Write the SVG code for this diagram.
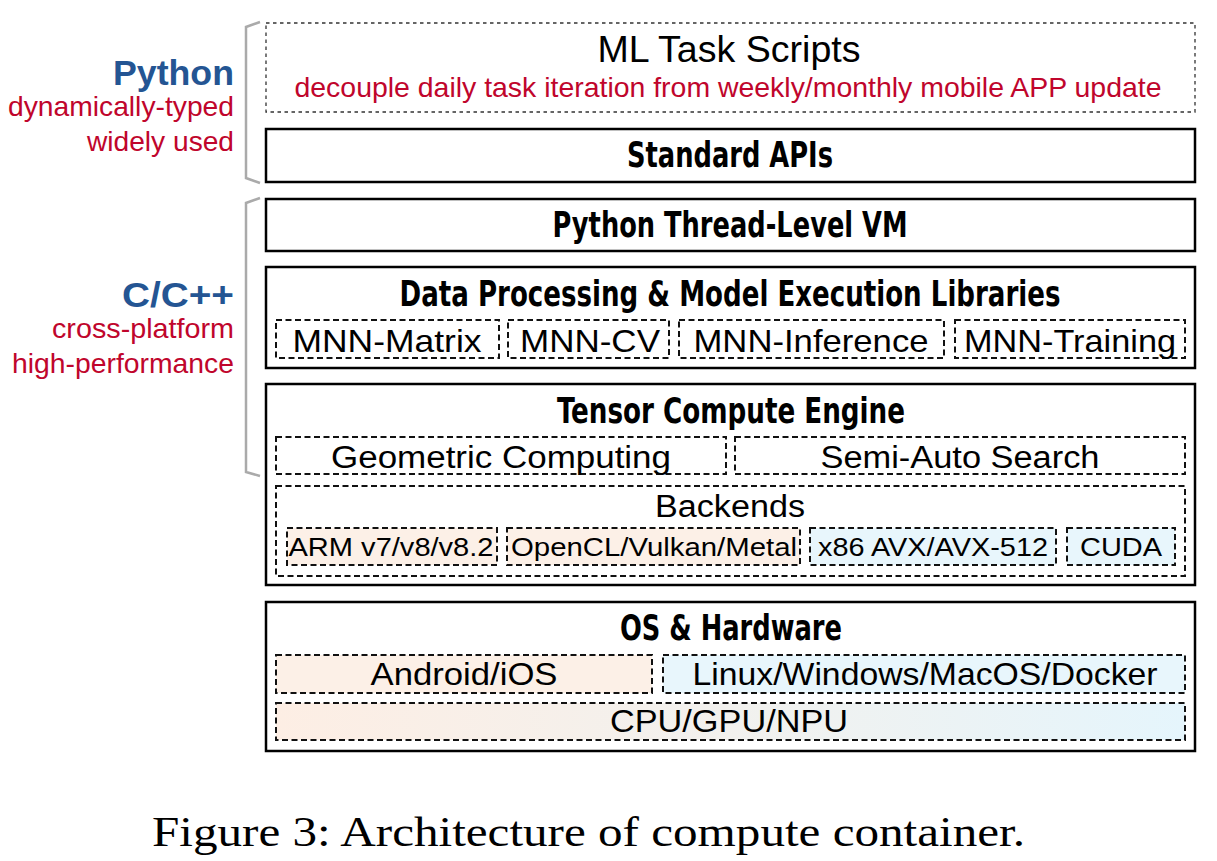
<svg xmlns="http://www.w3.org/2000/svg" width="1217" height="861" viewBox="0 0 1217 861">
<style>
.box{fill:#fff;stroke:#000;stroke-width:2.5}
.dash{fill:#fff;stroke:#111;stroke-width:2;stroke-dasharray:6 3.5}
.dot{fill:#fff;stroke:#333;stroke-width:1.3;stroke-dasharray:3.5 3.5}
.bracket{fill:none;stroke:#aaa;stroke-width:2.5}
.t{font-family:'Liberation Sans', Arimo, Arial, sans-serif;fill:#000;text-anchor:middle}
.b{font-family:'DejaVu Sans Condensed', 'DejaVu Sans', sans-serif;font-stretch:condensed;font-weight:bold;fill:#000;text-anchor:middle}
.red{font-family:'Liberation Sans', Arimo, Arial, sans-serif;fill:#c0052c}
.blue{font-family:'Liberation Sans', Arimo, Arial, sans-serif;font-weight:bold;fill:#245593}
.cap{font-family:'Liberation Serif', Tinos, 'Times New Roman', serif;fill:#000}
.or{fill:#fcf0e7}
.bl{fill:#e8f6fc}
</style>
<defs>
<linearGradient id="g" x1="0" y1="0" x2="1" y2="0">
<stop offset="0" stop-color="#fdeee4"/>
<stop offset="0.5" stop-color="#f2f1ee"/>
<stop offset="1" stop-color="#e5f5fc"/>
</linearGradient>
</defs>

<g id="left-labels">
<polyline class="bracket" points="260,22 246,27 246,178 260,183"/>
<polyline class="bracket" points="260,198 246,203 246,472 260,476"/>
<text class="blue" x="234" y="85" font-size="35" text-anchor="end" textLength="121" lengthAdjust="spacingAndGlyphs">Python</text>
<text class="red" x="234" y="116" font-size="28" text-anchor="end" textLength="226" lengthAdjust="spacingAndGlyphs">dynamically-typed</text>
<text class="red" x="234" y="151" font-size="28" text-anchor="end" textLength="147" lengthAdjust="spacingAndGlyphs">widely used</text>
<text class="blue" x="234" y="307" font-size="35" text-anchor="end" textLength="112" lengthAdjust="spacingAndGlyphs">C/C++</text>
<text class="red" x="234" y="338" font-size="28" text-anchor="end" textLength="182" lengthAdjust="spacingAndGlyphs">cross-platform</text>
<text class="red" x="234" y="373" font-size="28" text-anchor="end" textLength="222" lengthAdjust="spacingAndGlyphs">high-performance</text>
</g>

<g id="ml-task-scripts">
<rect class="dot" x="266" y="23" width="929" height="89"/>
<text class="t" x="729" y="62" font-size="36" textLength="263" lengthAdjust="spacingAndGlyphs">ML Task Scripts</text>
<text class="red" x="728" y="97" font-size="28" text-anchor="middle" textLength="867" lengthAdjust="spacingAndGlyphs">decouple daily task iteration from weekly/monthly mobile APP update</text>
</g>

<g id="standard-apis">
<rect class="box" x="266" y="129" width="929" height="53"/>
<text class="b" x="730" y="167" font-size="35" textLength="206" lengthAdjust="spacingAndGlyphs">Standard APIs</text>
</g>

<g id="python-vm">
<rect class="box" x="266" y="199" width="929" height="52"/>
<text class="b" x="730" y="237" font-size="35" textLength="355" lengthAdjust="spacingAndGlyphs">Python Thread-Level VM</text>
</g>

<g id="libraries">
<rect class="box" x="266" y="267" width="929" height="101"/>
<text class="b" x="730" y="306" font-size="35" textLength="661" lengthAdjust="spacingAndGlyphs">Data Processing &amp; Model Execution Libraries</text>
<rect class="dash" x="276" y="320" width="223" height="38"/>
<text class="t" x="387" y="352" font-size="32" textLength="189" lengthAdjust="spacingAndGlyphs">MNN-Matrix</text>
<rect class="dash" x="508" y="320" width="161" height="38"/>
<text class="t" x="590" y="352" font-size="32" textLength="140" lengthAdjust="spacingAndGlyphs">MNN-CV</text>
<rect class="dash" x="679" y="320" width="265" height="38"/>
<text class="t" x="811" y="352" font-size="32" textLength="235" lengthAdjust="spacingAndGlyphs">MNN-Inference</text>
<rect class="dash" x="955" y="320" width="230" height="38"/>
<text class="t" x="1070" y="352" font-size="32" textLength="212" lengthAdjust="spacingAndGlyphs">MNN-Training</text>
</g>

<g id="tensor-engine">
<rect class="box" x="266" y="384" width="929" height="201"/>
<text class="b" x="731" y="423" font-size="35" textLength="348" lengthAdjust="spacingAndGlyphs">Tensor Compute Engine</text>
<rect class="dash" x="276" y="437" width="450" height="37"/>
<text class="t" x="501" y="468" font-size="31" textLength="340" lengthAdjust="spacingAndGlyphs">Geometric Computing</text>
<rect class="dash" x="735" y="437" width="450" height="37"/>
<text class="t" x="960" y="468" font-size="31" textLength="279" lengthAdjust="spacingAndGlyphs">Semi-Auto Search</text>
<rect class="dash" x="276" y="486" width="909" height="90"/>
<text class="t" x="730" y="517" font-size="31" textLength="150" lengthAdjust="spacingAndGlyphs">Backends</text>
<rect class="dash or" x="287" y="528" width="210" height="37"/>
<text class="t" x="391" y="556" font-size="26" textLength="205" lengthAdjust="spacingAndGlyphs">ARM v7/v8/v8.2</text>
<rect class="dash or" x="507" y="528" width="293" height="37"/>
<text class="t" x="654" y="556" font-size="26" textLength="286" lengthAdjust="spacingAndGlyphs">OpenCL/Vulkan/Metal</text>
<rect class="dash bl" x="810" y="528" width="246" height="37"/>
<text class="t" x="933" y="556" font-size="26" textLength="230" lengthAdjust="spacingAndGlyphs">x86 AVX/AVX-512</text>
<rect class="dash bl" x="1067" y="528" width="108" height="37"/>
<text class="t" x="1121" y="556" font-size="26" textLength="82" lengthAdjust="spacingAndGlyphs">CUDA</text>
</g>

<g id="os-hardware">
<rect class="box" x="266" y="602" width="929" height="149"/>
<text class="b" x="731" y="640" font-size="35" textLength="222" lengthAdjust="spacingAndGlyphs">OS &amp; Hardware</text>
<rect class="dash or" x="276" y="655" width="376" height="38"/>
<text class="t" x="464" y="685" font-size="32" textLength="187" lengthAdjust="spacingAndGlyphs">Android/iOS</text>
<rect class="dash bl" x="663" y="655" width="522" height="38"/>
<text class="t" x="925" y="685" font-size="32" textLength="465" lengthAdjust="spacingAndGlyphs">Linux/Windows/MacOS/Docker</text>
<rect class="dash" x="276" y="703" width="909" height="37" style="fill:url(#g)"/>
<text class="t" x="729" y="732" font-size="32" textLength="238" lengthAdjust="spacingAndGlyphs">CPU/GPU/NPU</text>
</g>

<g id="connectors"></g>

<text font-family="Liberation Serif, serif" x="152" y="846" font-size="42" textLength="873" lengthAdjust="spacingAndGlyphs">Figure 3: Architecture of compute container.</text>
</svg>
